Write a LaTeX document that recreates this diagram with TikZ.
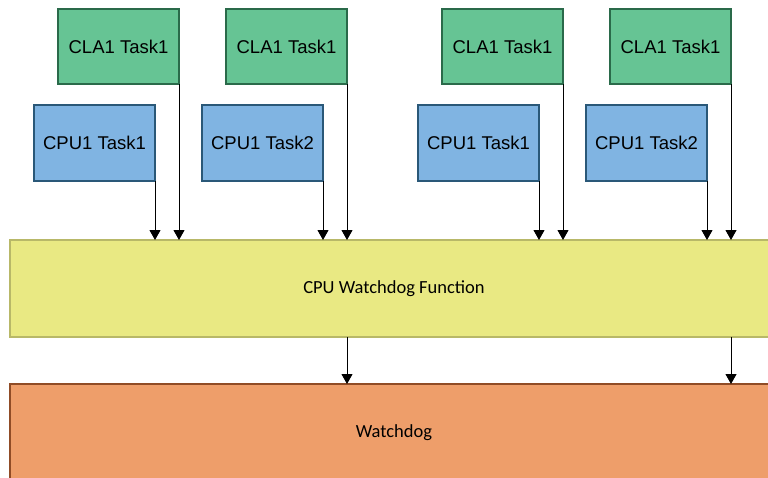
\documentclass[tikz,border=0pt]{standalone}
\usepackage{fontspec}
\setmainfont{Liberation Sans}
\newfontfamily\calibri{Carlito}
\usetikzlibrary{arrows.meta}
\definecolor{clafill}{HTML}{66C494}
\definecolor{cladraw}{HTML}{2A6A4A}
\definecolor{cpufill}{HTML}{80B4E2}
\definecolor{cpudraw}{HTML}{2A5878}
\definecolor{wdffill}{HTML}{E9E983}
\definecolor{wdfdraw}{HTML}{B8B868}
\definecolor{wdfill}{HTML}{EE9E6A}
\definecolor{wddraw}{HTML}{904C26}
\tikzset{
  cla/.style={draw=cladraw, fill=clafill, line width=1.5pt, minimum width=121pt, minimum height=75pt, inner sep=0pt, outer sep=0pt, font=\fontsize{18.5}{20}\selectfont},
  cpu/.style={draw=cpudraw, fill=cpufill, line width=1.5pt, minimum width=121pt, minimum height=76pt, inner sep=0pt, outer sep=0pt, font=\fontsize{18.5}{20}\selectfont},
  wdf/.style={draw=wdfdraw, fill=wdffill, line width=1.5pt, minimum width=768pt, minimum height=97pt, inner sep=0pt, outer sep=0pt, font=\calibri\fontsize{18.5}{20}\selectfont},
  wd/.style={draw=wddraw, fill=wdfill, line width=1.5pt, minimum width=768pt, minimum height=98pt, inner sep=0pt, outer sep=0pt, font=\calibri\fontsize{18.5}{20}\selectfont},
  arr/.style={draw=black, line width=1pt, -{Triangle[length=10pt,width=11pt]}}
}
\begin{document}
\begin{tikzpicture}[x=1pt,y=-1pt]
\useasboundingbox (0,0) rectangle (768,477);
\clip (0,0) rectangle (768,477);
\node[cla] (a1) at (118.5,46.5) {CLA1 Task1};
\node[cla] (a2) at (286.5,46.5) {CLA1 Task1};
\node[cla] (a3) at (502.5,46.5) {CLA1 Task1};
\node[cla] (a4) at (670.5,46.5) {CLA1 Task1};
\node[cpu] (p1) at (94.5,143) {CPU1 Task1};
\node[cpu] (p2) at (262.5,143) {CPU1 Task2};
\node[cpu] (p3) at (478.5,143) {CPU1 Task1};
\node[cpu] (p4) at (646.5,143) {CPU1 Task2};
\node[wdf] (f) at (394,288.5) {CPU Watchdog Function};
\node[wd] (w) at (394,433) {Watchdog};
\foreach \n in {a1,a2,a3,a4,p1,p2,p3,p4}{
  \draw[arr] (\n.south east) -- (\n.south east |- f.north);
}
\draw[arr] (f.south -| a2.east) -- (w.north -| a2.east);
\draw[arr] (f.south -| a4.east) -- (w.north -| a4.east);
\end{tikzpicture}
\end{document}
